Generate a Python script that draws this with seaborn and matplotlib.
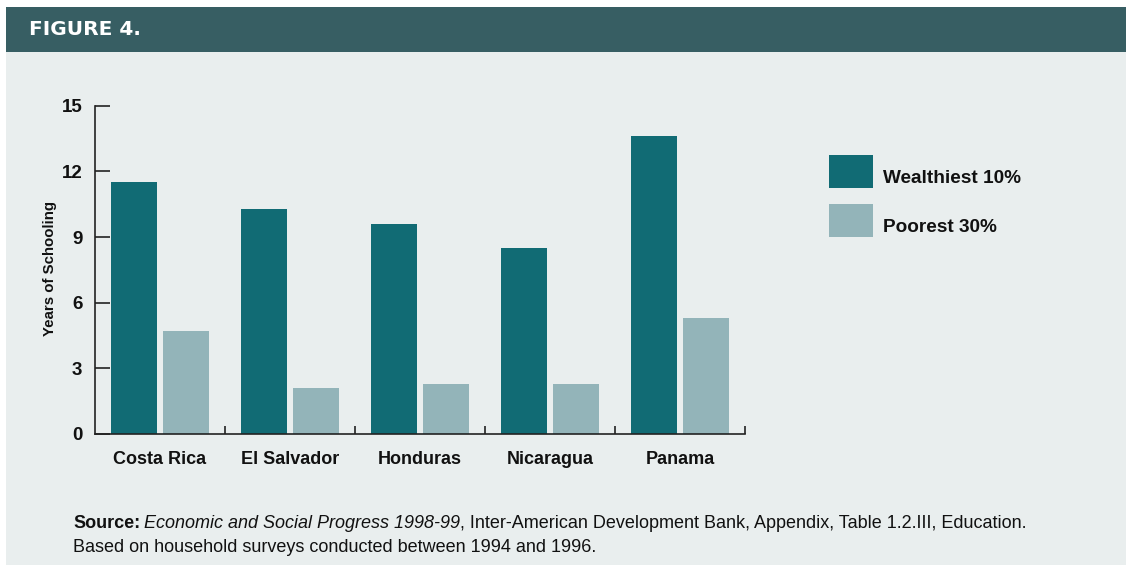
import matplotlib
matplotlib.use("Agg")
import matplotlib.pyplot as plt
from matplotlib.patches import Rectangle
from matplotlib.legend_handler import HandlerPatch
from matplotlib.ticker import FixedLocator
import pandas as pd
import seaborn as sns

# Average years of schooling by income group
countries = ["Costa Rica", "El Salvador", "Honduras", "Nicaragua", "Panama"]
wealthiest_10 = [11.5, 10.3, 9.6, 8.5, 13.6]
poorest_30 = [4.7, 2.1, 2.3, 2.3, 5.3]
group_labels = ["Wealthiest 10%", "Poorest 30%"]
y_ticks = [0, 3, 6, 9, 12, 15]

DARK = "#116b74"
LIGHT = "#93b4b9"
PANEL = "#e9eeee"
HEADER = "#375e63"
INK = "#111111"

df = pd.DataFrame({
    "country": countries * 2,
    "years": wealthiest_10 + poorest_30,
    "group": [group_labels[0]] * len(countries) + [group_labels[1]] * len(countries),
})

sns.set_theme(style="white")
plt.rcParams["font.family"] = ["Liberation Sans", "DejaVu Sans"]

W, H = 1126, 565
fig = plt.figure(figsize=(W / 100, H / 100), dpi=100, facecolor="white")

def fx(px):
    return px / W

def fy(py):
    return 1 - py / H

# panel background and header band (behind everything)
fig.patches.append(Rectangle((fx(6), 0), 1 - fx(6), fy(7), transform=fig.transFigure,
                             facecolor=PANEL, edgecolor="none", zorder=-2))
fig.patches.append(Rectangle((fx(6), fy(52)), 1 - fx(6), fy(7) - fy(52), transform=fig.transFigure,
                             facecolor=HEADER, edgecolor="none", zorder=-1))
fig.text(fx(29), fy(29.5), "FIGURE 4.", color="white", fontsize=14.5, fontweight="bold",
         family="DejaVu Sans", va="center", ha="left")

ax = fig.add_axes([fx(95), fy(434), fx(745) - fx(95), fy(105.7) - fy(434)])
ax.set_facecolor("none")

sns.barplot(data=df, x="country", y="years", hue="group", order=countries,
            hue_order=group_labels, palette=[DARK, LIGHT], width=0.8, gap=0.1,
            saturation=1, errorbar=None, linewidth=0, edgecolor="none", ax=ax, zorder=2)

ax.set_xlim(-0.5, len(countries) - 0.5)
ax.set_ylim(0, 15)
ax.set_yticks(y_ticks)
ax.set_yticklabels([str(t) for t in y_ticks], fontsize=13.5, fontweight="bold", color=INK)
ax.set_xticks(range(len(countries)))
ax.set_xticklabels(countries, fontsize=13, fontweight="bold", color=INK)
ax.xaxis.set_minor_locator(FixedLocator([i + 0.5 for i in range(len(countries))]))
ax.set_xlabel("")
ax.set_ylabel("")

for side in ("top", "right"):
    ax.spines[side].set_visible(False)
for side in ("left", "bottom"):
    ax.spines[side].set_color("#222222")
    ax.spines[side].set_linewidth(1.2)

ax.tick_params(axis="y", which="major", direction="in", length=11, width=1.2,
               color="#222222", pad=9, left=True)
ax.tick_params(axis="x", which="major", length=0, pad=12)
ax.tick_params(axis="x", which="minor", direction="in", length=6, width=1.2,
               color="#222222", bottom=True)

fig.text(fx(50), fy(268.5), "Years of Schooling", rotation=90, fontsize=10.8,
         fontweight="bold", color=INK, ha="center", va="center")

# legend to the right of the plot: big swatches sitting slightly below the text baseline
SW_W, SW_H, SW_DROP = 44 * 0.72, 33 * 0.72, 5 * 0.72  # points


def swatch(legend, orig_handle, xdescent, ydescent, width, height, fontsize):
    return Rectangle((-xdescent, -SW_DROP), SW_W, SW_H)


handles, labels = ax.get_legend_handles_labels()
ax.legend(handles, labels, loc="upper left", bbox_to_anchor=(fx(829), fy(163)),
          bbox_transform=fig.transFigure, frameon=False, borderpad=0, borderaxespad=0,
          handlelength=SW_W / 13.7, handleheight=1.83, handletextpad=0.5, labelspacing=1.14,
          handler_map={Rectangle: HandlerPatch(patch_func=swatch)},
          prop={"size": 13.7, "weight": "bold"})
for t in ax.get_legend().get_texts():
    t.set_color(INK)

# source note
fs = 13
line1_y = fy(532.5)
src = fig.text(fx(73), line1_y, "Source:", fontsize=fs, fontweight="bold", color=INK,
               ha="left", va="bottom")
pub = fig.text(0, 0, "Economic and Social Progress 1998-99", fontsize=fs, style="italic",
               color=INK, ha="left", va="bottom")
rest = fig.text(0, 0, ", Inter-American Development Bank, Appendix, Table 1.2.III, Education.",
                fontsize=fs, color=INK, ha="left", va="bottom")
fig.text(fx(73), fy(555.5), "Based on household surveys conducted between 1994 and 1996.",
         fontsize=fs, color=INK, ha="left", va="bottom")

# chain the differently styled pieces of the first source line
fig.canvas.draw()
renderer = fig.canvas.get_renderer()
inv = fig.transFigure.inverted()
prev = src
for piece, gap_px in ((pub, 4), (rest, 0)):
    bb = prev.get_window_extent(renderer)
    x0, _ = inv.transform((bb.x1 + gap_px, bb.y0))
    piece.set_position((x0, line1_y))
    prev = piece

fig.savefig("out.png", dpi=100, facecolor="white")
